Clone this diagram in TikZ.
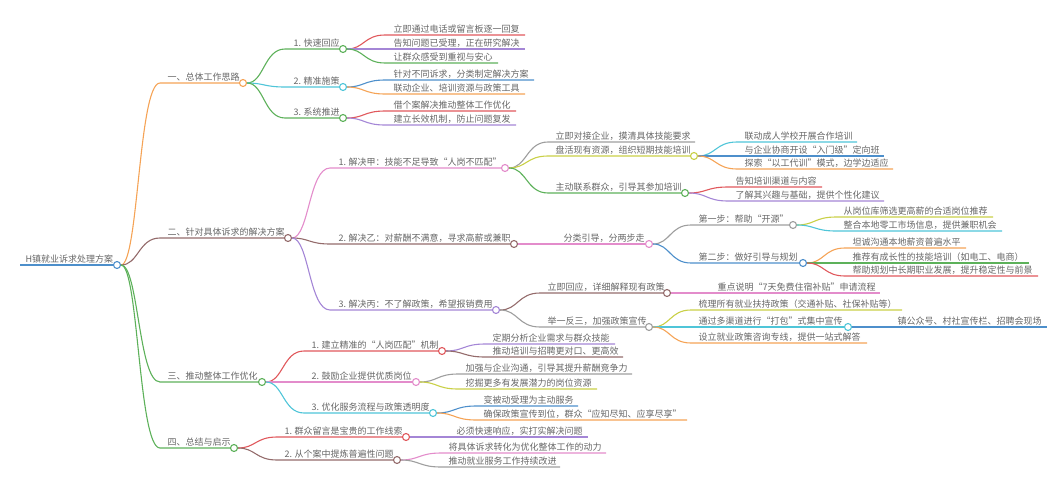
\documentclass[tikz,border=0pt]{standalone}
\usepackage{fontspec}
\setmainfont{Noto Sans CJK SC}
\definecolor{txtgray}{HTML}{666666}
\definecolor{cBlue}{HTML}{4D8FCB}
\definecolor{cOrange}{HTML}{F5A356}
\definecolor{cBrown}{HTML}{946B6B}
\definecolor{cGreen}{HTML}{5DB15A}
\definecolor{cCyan}{HTML}{4FC5D8}
\definecolor{cRed}{HTML}{E0585C}
\definecolor{cPurple}{HTML}{A486D6}
\definecolor{cPink}{HTML}{E38CCB}
\definecolor{cYG}{HTML}{C9D046}
\definecolor{cGray}{HTML}{9E9E9E}
\newcommand\mmhub[7]{\coordinate (#1-s) at (#3,#6); \node[dot,draw=#2] (#1) at (#5,#6) {}; \node[lbl] (#1-t) at (#4,#6-2.5) {#7};}
\newcommand\mmleaf[7]{\coordinate (#1-s) at (#3,#6); \coordinate (#1) at (#5,#6); \node[lbl] (#1-t) at (#4,#6-2.5) {#7};}
\newcommand\mmlink[4]{\draw[#3] (#1) .. controls +(#4,0) and +(-#4,0) .. (#2-s) -- (#2);}
\begin{document}
\begin{tikzpicture}[x=1pt,y=-1pt,line width=1.1pt,
  dot/.style={circle,minimum size=7pt,inner sep=0pt,fill=white,line width=1.1pt},
  lbl/.style={anchor=base west,inner sep=0pt,font=\fontsize{9}{10}\selectfont,text=txtgray}]
\useasboundingbox (0,0) rectangle (1061,501);
% root
\mmhub{root}{cBlue}{20}{25}{117}{265}{H镇就业诉求处理方案}
% level 1
\mmhub{a}{cOrange}{160}{167}{243}{83}{一、总体工作思路}
\mmhub{b}{cBrown}{160}{167}{288}{238}{二、针对具体诉求的解决方案}
\mmhub{c}{cGreen}{160}{167}{262}{382}{三、推动整体工作优化}
\mmhub{d}{cGreen}{160}{167}{234}{448}{四、总结与启示}
% under a
\mmhub{a1}{cGreen}{285}{293}{343}{49}{1. 快速回应}
\mmhub{a2}{cCyan}{285}{293}{343}{87}{2. 精准施策}
\mmhub{a3}{cGreen}{285}{293}{343}{118}{3. 系统推进}
\mmleaf{a11}{cRed}{385}{393}{525}{35}{立即通过电话或留言板逐一回复}
\mmleaf{a12}{cPurple}{385}{393}{525}{49}{告知问题已受理，正在研究解决}
\mmleaf{a13}{cGreen}{385}{393}{498}{63}{让群众感受到重视与安心}
\mmleaf{a21}{cBlue}{385}{393}{534}{80}{针对不同诉求，分类制定解决方案}
\mmleaf{a22}{cOrange}{385}{393}{525}{94}{联动企业、培训资源与政策工具}
\mmleaf{a31}{cRed}{385}{393}{516}{111}{借个案解决推动整体工作优化}
\mmleaf{a32}{cPurple}{385}{393}{516}{125}{建立长效机制，防止问题复发}
% under b
\mmhub{b1}{cPink}{330}{338}{505}{168}{1. 解决甲：技能不足导致“人岗不匹配”}
\mmhub{b2}{cBrown}{330}{338}{514}{244}{2. 解决乙：对薪酬不满意，寻求高薪或兼职}
\mmhub{b3}{cPurple}{330}{338}{496}{310}{3. 解决丙：不了解政策，希望报销费用}
\mmleaf{b11}{cGray}{548}{555}{695}{142}{立即对接企业，摸清具体技能要求}
\mmhub{b12}{cYG}{548}{555}{694}{156}{盘活现有资源，组织短期技能培训}
\mmhub{b13}{cGreen}{548}{555}{685}{193}{主动联系群众，引导其参加培训}
\mmleaf{b121}{cCyan}{737}{744}{857}{142}{联动成人学校开展合作培训}
\mmleaf{b122}{cBlue}{737}{744}{884}{156}{与企业协商开设“入门级”定向班}
\mmleaf{b123}{cOrange}{737}{744}{893}{169}{探索“以工代训”模式，边学边适应}
\mmleaf{b131}{cRed}{728}{735}{822}{187}{告知培训渠道与内容}
\mmleaf{b132}{cPurple}{728}{735}{884}{201}{了解其兴趣与基础，提供个性化建议}
\mmhub{b21}{cPink}{556}{563}{649}{244}{分类引导，分两步走}
\mmhub{b211}{cGray}{691}{698}{793}{225}{第一步：帮助“开源”}
\mmhub{b212}{cBlue}{691}{698}{803}{263}{第二步：做好引导与规划}
\mmleaf{b2111}{cYG}{836}{843}{993}{217}{从岗位库筛选更高薪的合适岗位推荐}
\mmleaf{b2112}{cCyan}{836}{843}{1002}{231}{整合本地零工市场信息，提供兼职机会}
\mmleaf{b2121}{cOrange}{845}{852}{966}{248}{坦诚沟通本地薪资普遍水平}
\mmleaf{b2122}{cGreen}{845}{852}{1029}{263}{推荐有成长性的技能培训（如电工、电商）}
\mmleaf{b2123}{cRed}{845}{852}{1038}{276}{帮助规划中长期职业发展，提升稳定性与前景}
\mmhub{b31}{cBrown}{540}{547}{667}{293}{立即回应，详细解释现有政策}
\mmhub{b32}{cGray}{540}{547}{649}{327}{举一反三，加强政策宣传}
\mmleaf{b311}{cPink}{710}{717}{880}{293}{重点说明“7天免费住宿补贴”申请流程}
\mmleaf{b321}{cYG}{691}{698}{902}{310}{梳理所有就业扶持政策（交通补贴、社保补贴等）}
\mmhub{b322}{cCyan}{691}{698}{848}{327}{通过多渠道进行“打包”式集中宣传}
\mmleaf{b323}{cOrange}{691}{698}{867}{343}{设立就业政策咨询专线，提供一站式解答}
\mmleaf{b3221}{cBlue}{890}{897}{1047}{327}{镇公众号、村社宣传栏、招聘会现场}
% under c
\mmhub{c1}{cRed}{304}{311}{442}{351}{1. 建立精准的“人岗匹配”机制}
\mmhub{c2}{cPink}{304}{311}{416}{382}{2. 鼓励企业提供优质岗位}
\mmhub{c3}{cCyan}{304}{311}{433}{413}{3. 优化服务流程与政策透明度}
\mmleaf{c11}{cPurple}{485}{492}{615}{344}{定期分析企业需求与群众技能}
\mmleaf{c12}{cBrown}{485}{492}{623}{357}{推动培训与招聘更对口、更高效}
\mmleaf{c21}{cGray}{458}{465}{632}{374}{加强与企业沟通，引导其提升薪酬竞争力}
\mmleaf{c22}{cYG}{458}{465}{597}{389}{挖掘更多有发展潜力的岗位资源}
\mmleaf{c31}{cBlue}{476}{483}{578}{406}{变被动受理为主动服务}
\mmleaf{c32}{cOrange}{476}{483}{687}{420}{确保政策宣传到位，群众“应知尽知、应享尽享”}
% under d
\mmhub{d1}{cRed}{277}{284}{406}{437}{1. 群众留言是宝贵的工作线索}
\mmhub{d2}{cBrown}{277}{284}{397}{460}{2. 从个案中提炼普遍性问题}
\mmleaf{d11}{cPurple}{449}{456}{588}{437}{必须快速响应，实打实解决问题}
\mmleaf{d21}{cPink}{441}{448}{606}{453}{将具体诉求转化为优化整体工作的动力}
\mmleaf{d22}{cGray}{441}{448}{560}{467}{推动就业服务工作持续改进}
% connectors
\draw[cBlue] (root-s) -- (root);
\mmlink{root}{a}{cOrange}{21.5}
\mmlink{root}{b}{cBrown}{21.5}
\mmlink{root}{c}{cGreen}{21.5}
\mmlink{root}{d}{cGreen}{21.5}
\mmlink{a}{a1}{cGreen}{21}
\mmlink{a}{a2}{cCyan}{21}
\mmlink{a}{a3}{cGreen}{21}
\mmlink{a1}{a11}{cRed}{21}
\mmlink{a1}{a12}{cPurple}{21}
\mmlink{a1}{a13}{cGreen}{21}
\mmlink{a2}{a21}{cBlue}{21}
\mmlink{a2}{a22}{cOrange}{21}
\mmlink{a3}{a31}{cRed}{21}
\mmlink{a3}{a32}{cPurple}{21}
\mmlink{b}{b1}{cPink}{21}
\mmlink{b}{b2}{cBrown}{21}
\mmlink{b}{b3}{cPurple}{21}
\mmlink{b1}{b11}{cGray}{21.5}
\mmlink{b1}{b12}{cYG}{21.5}
\mmlink{b1}{b13}{cGreen}{21.5}
\mmlink{b12}{b121}{cCyan}{21.5}
\mmlink{b12}{b122}{cBlue}{21.5}
\mmlink{b12}{b123}{cOrange}{21.5}
\mmlink{b13}{b131}{cRed}{21.5}
\mmlink{b13}{b132}{cPurple}{21.5}
\mmlink{b2}{b21}{cPink}{21}
\mmlink{b21}{b211}{cGray}{21}
\mmlink{b21}{b212}{cBlue}{21}
\mmlink{b211}{b2111}{cYG}{21.5}
\mmlink{b211}{b2112}{cCyan}{21.5}
\mmlink{b212}{b2121}{cOrange}{21}
\mmlink{b212}{b2122}{cGreen}{21}
\mmlink{b212}{b2123}{cRed}{21}
\mmlink{b3}{b31}{cBrown}{22}
\mmlink{b3}{b32}{cGray}{22}
\mmlink{b31}{b311}{cPink}{21.5}
\mmlink{b32}{b321}{cYG}{21}
\mmlink{b32}{b322}{cCyan}{21}
\mmlink{b32}{b323}{cOrange}{21}
\mmlink{b322}{b3221}{cBlue}{21}
\mmlink{c}{c1}{cRed}{21}
\mmlink{c}{c2}{cPink}{21}
\mmlink{c}{c3}{cCyan}{21}
\mmlink{c1}{c11}{cPurple}{21.5}
\mmlink{c1}{c12}{cBrown}{21.5}
\mmlink{c2}{c21}{cGray}{21}
\mmlink{c2}{c22}{cYG}{21}
\mmlink{c3}{c31}{cBlue}{21.5}
\mmlink{c3}{c32}{cOrange}{21.5}
\mmlink{d}{d1}{cRed}{21.5}
\mmlink{d}{d2}{cBrown}{21.5}
\mmlink{d1}{d11}{cPurple}{21.5}
\mmlink{d2}{d21}{cPink}{22}
\mmlink{d2}{d22}{cGray}{22}
\end{tikzpicture}
\end{document}
